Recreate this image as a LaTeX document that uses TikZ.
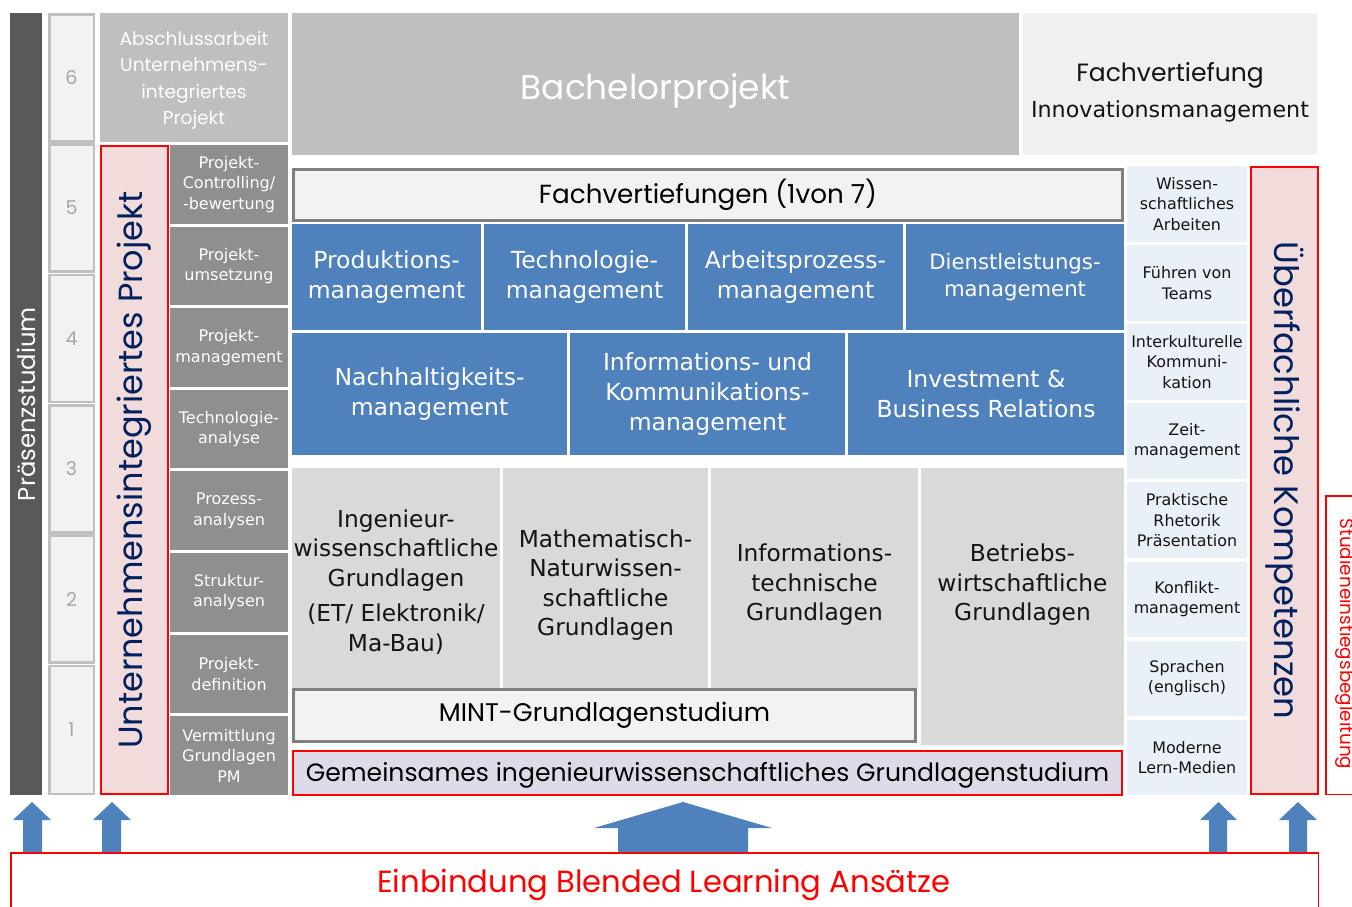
\documentclass[tikz,border=0pt]{standalone}
\usepackage{fontspec}
\setmainfont{DejaVu Sans}
\newfontfamily\fut{Poppins}
\definecolor{darkbar}{HTML}{595959}
\definecolor{semfill}{HTML}{F2F2F2}
\definecolor{semline}{HTML}{C0C0C0}
\definecolor{semtext}{HTML}{A6A6A6}
\definecolor{lgray}{HTML}{BFBFBF}
\definecolor{mgray}{HTML}{8F8F8F}
\definecolor{pinkf}{HTML}{F2DCDB}
\definecolor{redl}{HTML}{FF0000}
\definecolor{offw}{HTML}{F0F0F0}
\definecolor{hdrline}{HTML}{7F7F7F}
\definecolor{blueb}{HTML}{4F81BD}
\definecolor{gl}{HTML}{D9D9D9}
\definecolor{lav}{HTML}{DFDAE8}
\definecolor{lblue}{HTML}{EAF0F8}
\definecolor{navy}{HTML}{002060}
\definecolor{txt}{HTML}{141414}
\newcommand\fsz[2]{\fontsize{#1}{#2}\selectfont}
% \rbx{style}{x1}{y1}{x2}{y2}{name}{text}
\newcommand\rbx[7]{\node[#1, minimum width={#4-#2}, minimum height={#5-#3}] (#6) at ({(#2+#4)/2},{(#3+#5)/2}) {#7};}
\begin{document}
\begin{tikzpicture}[x=1pt,y=-1pt,
  cell/.style={inner sep=0pt, outer sep=0pt, align=center},
  dark/.style={cell, fill=darkbar},
  sem/.style={cell, fill=semfill, draw=semline, line width=2.5pt, text=semtext, font=\fut\fsz{19}{22}},
  absch/.style={cell, fill=lgray},
  pinkbox/.style={cell, fill=pinkf, draw=redl, line width=2pt},
  graybox/.style={cell, fill=mgray, text=white, font=\fsz{16}{20.5}},
  bluebox/.style={cell, fill=blueb, text=white, font=\fsz{23.5}{30}},
  glbox/.style={cell, fill=gl},
  gltext/.style={cell, text=txt, font=\fsz{23.3}{29.5}},
  rbox/.style={cell, fill=lblue, text=txt, font=\fsz{15.9}{20.5}},
  hdr/.style={cell, fill=semfill, draw=hdrline, line width=3pt, text=black},
  arrowfill/.style={fill=blueb, draw=none}
]
\useasboundingbox (0,0) rectangle (1352,906);

% Praesenzstudium
\rbx{dark}{10}{13}{42}{795}{praes}{}
\node[rotate=90, text=white, font=\fut\fsz{24.3}{28}] (praesT) at (praes.center) {Präsenzstudium};

% Semester column
\rbx{sem}{49.25}{14.25}{93.75}{141.25}{s6}{6}
\rbx{sem}{49.25}{144.6}{93.75}{271.6}{s5}{5}
\rbx{sem}{49.25}{275}{93.75}{402}{s4}{4}
\rbx{sem}{49.25}{405.3}{93.75}{532.3}{s3}{3}
\rbx{sem}{49.25}{535.6}{93.75}{662.6}{s2}{2}
\rbx{sem}{49.25}{666}{93.75}{793.75}{s1}{1}

% Abschlussarbeit
\rbx{absch}{100}{13}{288}{142}{absch}{}
\node[cell, text=white, font=\fut\fsz{18.6}{26.5}] (abschT) at ([yshift=-3pt]absch.center) {Abschlussarbeit\\Unternehmens-\\integriertes\\Projekt};

% Unternehmensintegriertes Projekt
\rbx{pinkbox}{101}{146}{168}{794}{uip}{}
\node[rotate=90, text=navy, font=\fut\fsz{33.5}{36}] (uipT) at (uip.center) {Unternehmensintegriertes Projekt};

% left gray column
\rbx{graybox}{170}{145}{288}{223.5}{g1}{Projekt-\\Controlling/\\-bewertung}
\rbx{graybox}{170}{226.6}{288}{305.1}{g2}{Projekt-\\umsetzung}
\rbx{graybox}{170}{308.2}{288}{386.7}{g3}{Projekt-\\management}
\rbx{graybox}{170}{389.8}{288}{468.3}{g4}{Technologie-\\analyse}
\rbx{graybox}{170}{471.4}{288}{549.9}{g5}{Prozess-\\analysen}
\rbx{graybox}{170}{553}{288}{631.5}{g6}{Struktur-\\analysen}
\rbx{graybox}{170}{634.6}{288}{713.1}{g7}{Projekt-\\definition}
\rbx{graybox}{170}{716.2}{288}{795}{g8}{Vermittlung\\Grundlagen\\PM}

% Bachelorprojekt
\rbx{cell, fill=lgray}{292}{13}{1019}{155}{bp}{}
\node[cell, text=white, font=\fut\fsz{34.3}{38}] (bpT) at ([yshift=-7pt]bp.center) {Bachelorprojekt};

% Fachvertiefung Innovationsmanagement
\rbx{cell, fill=offw}{1023}{13}{1317}{155}{fvi}{}
\node[cell, text=txt] (fviT) at ([yshift=-8pt]fvi.center) {{\fut\fsz{25}{30}Fachvertiefung}\\[11pt]{\fsz{22.2}{26}Innovationsmanagement}};

% Fachvertiefungen header
\rbx{hdr, font=\fut\fsz{26.2}{30}}{293.5}{169.5}{1122.5}{220.5}{fvh}{Fachvertiefungen (1von 7)}

% blue row 1
\rbx{bluebox}{292}{224}{481}{330}{b1}{Produktions-\\management}
\rbx{bluebox}{484}{224}{685}{330}{b2}{Technologie-\\management}
\rbx{bluebox}{688}{224}{903}{330}{b3}{Arbeitsprozess-\\management}
\rbx{bluebox, font=\fsz{21.2}{26.5}}{906}{224}{1124}{330}{b4}{Dienstleistungs-\\management}
% blue row 2
\rbx{bluebox}{292}{333}{567}{455}{b5}{Nachhaltigkeits-\\management}
\rbx{bluebox}{570}{333}{845}{455}{b6}{Informations- und\\Kommunikations-\\management}
\rbx{bluebox}{848}{333}{1124}{455}{b7}{Investment \&\\Business Relations}

% Grundlagen
\rbx{glbox}{292}{468}{500}{688}{gl1}{}
\rbx{glbox}{503}{468}{708}{688}{gl2}{}
\rbx{glbox}{711}{468}{918}{688}{gl3}{}
\rbx{glbox}{921}{468}{1124}{745}{gl4}{}
\node[gltext] (gl1T) at (396,582) {Ingenieur-\\wissenschaftliche\\Grundlagen\\[6pt](ET/ Elektronik/\\Ma-Bau)};
\node[gltext] (gl2T) at (605.5,585) {Mathematisch-\\Naturwissen-\\schaftliche\\Grundlagen};
\node[gltext] (gl3T) at (814.5,585) {Informations-\\technische\\Grundlagen};
\node[gltext] (gl4T) at (1022.5,585) {Betriebs-\\wirtschaftliche\\Grundlagen};

% MINT
\rbx{hdr, font=\fut\fsz{25.5}{30}}{293.5}{689.5}{915.5}{741.5}{mint}{MINT-Grundlagenstudium}

% Gemeinsames
\rbx{cell, fill=lav, draw=redl, line width=2pt}{293}{751}{1122}{795}{gem}{}
\node[cell, text=black, font=\fut\fsz{25.1}{30}] (gemT) at ([yshift=-2pt]gem.center) {Gemeinsames ingenieurwissenschaftliches Grundlagenstudium};

% right column
\rbx{rbox}{1127}{166}{1247}{241.5}{r1}{Wissen-\\schaftliches\\Arbeiten}
\rbx{rbox}{1127}{245.1}{1247}{320.6}{r2}{Führen von\\Teams}
\rbx{rbox}{1127}{324.2}{1247}{399.7}{r3}{Interkulturelle\\Kommuni-\\kation}
\rbx{rbox}{1127}{403.3}{1247}{478.8}{r4}{Zeit-\\management}
\rbx{rbox}{1127}{482.4}{1247}{557.9}{r5}{Praktische\\Rhetorik\\Präsentation}
\rbx{rbox}{1127}{561.5}{1247}{637}{r6}{Konflikt-\\management}
\rbx{rbox}{1127}{640.6}{1247}{716.1}{r7}{Sprachen\\(englisch)}
\rbx{rbox}{1127}{719.7}{1247}{795}{r8}{Moderne\\Lern-Medien}

% Ueberfachliche Kompetenzen
\rbx{pinkbox}{1251}{167}{1318}{794}{uk}{}
\node[rotate=-90, text=navy, font=\fut\fsz{33.8}{36}] (ukT) at (uk.center) {Überfachliche Kompetenzen};

% Studieneinstiegsbegleitung
\rbx{cell, fill=white, draw=redl, line width=1.5pt}{1325.75}{495.75}{1365}{794.25}{sb}{}
\node[rotate=-90, text=redl, font=\fut\fsz{18.4}{20}] (sbT) at (1345,644) {Studieneinstiegsbegleitung};

% Einbindung
\rbx{cell, fill=white, draw=redl, line width=1.5pt}{10.75}{852.75}{1318.25}{930}{ein}{}
\node[text=redl, font=\fut\fsz{30.6}{34}] (einT) at (664,885) {Einbindung Blended Learning Ansätze};

% arrows
\fill[arrowfill] (23,852) -- (23,820) -- (13,820) -- (32,802) -- (51,820) -- (42,820) -- (42,852) -- cycle;
\fill[arrowfill] (102,852) -- (102,820) -- (93,820) -- (112,802) -- (131,820) -- (121,820) -- (121,852) -- cycle;
\fill[arrowfill] (1209,852) -- (1209,820) -- (1200,820) -- (1218.5,802) -- (1237,820) -- (1227,820) -- (1227,852) -- cycle;
\fill[arrowfill] (1289,852) -- (1289,820) -- (1279,820) -- (1298,802) -- (1317,820) -- (1307,820) -- (1307,852) -- cycle;
\fill[arrowfill] (618,852) -- (618,828) -- (594,828) -- (683,802) -- (772,828) -- (748,828) -- (748,852) -- cycle;
\end{tikzpicture}
\end{document}
